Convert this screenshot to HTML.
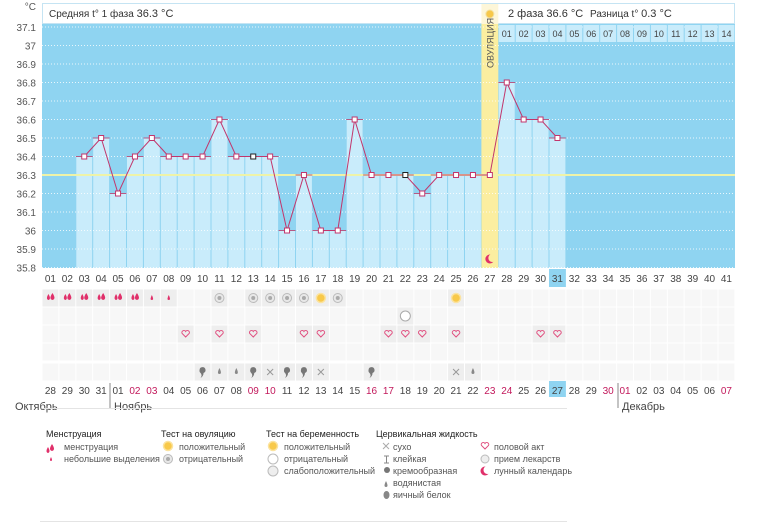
<!DOCTYPE html>
<html><head><meta charset="utf-8">
<style>
html,body{margin:0;padding:0;background:#fff;}
body{width:770px;height:523px;overflow:hidden;font-family:"Liberation Sans","DejaVu Sans",sans-serif;}
svg text{font-family:"Liberation Sans","DejaVu Sans",sans-serif;}
</style></head>
<body>
<svg id="s" width="770" height="523" xmlns="http://www.w3.org/2000/svg"></svg>
<script>
var s=document.getElementById('s');var h='';
var X0=42,W=16.9;
function cx(i){return X0+(i-0.5)*W;}
function y(v){return 27+(37.1-v)*185;}
// plot bg
h+='<rect x="42" y="24" width="693" height="244" fill="#8fd4f1"/>';
var data=[null,null,36.4,36.5,36.2,36.4,36.5,36.4,36.4,36.4,36.6,36.4,36.4,36.4,36.0,36.3,36.0,36.0,36.6,36.3,36.3,36.3,36.2,36.3,36.3,36.3,36.3,36.8,36.6,36.6,36.5];
// bars
for(var i=1;i<=31;i++){var v=data[i-1];if(v===null)continue;var x=X0+(i-1)*W;
 if(i==27){h+='<rect x="'+x+'" y="24" width="'+W+'" height="244" fill="#fbeea0"/>';continue;}
 h+='<rect x="'+(x+0.5)+'" y="'+y(v)+'" width="'+(W-1)+'" height="'+(268-y(v))+'" fill="#c9ecfb"/>';}
// dotted lines
for(var k=0;k<=13;k++){var v=37.1-k*0.1;var yy=y(v);
 h+='<line x1="42" x2="735" y1="'+yy+'" y2="'+yy+'" stroke="#fff" stroke-width="1" stroke-dasharray="1,2" opacity="0.8"/>';
 if(k<=13){var t=(Math.round(v*10)/10).toString();h+='<text x="36" y="'+(yy+4)+'" font-size="10" fill="#555" text-anchor="end">'+t+'</text>';}}
h+='<text x="36" y="10" font-size="10" fill="#555" text-anchor="end">°C</text>';
// coverline
h+='<line x1="42" x2="735" y1="175" y2="175" stroke="#eef3a8" stroke-width="2"/>';
// bar tops
for(var i=1;i<=31;i++){var v=data[i-1];if(v===null||i==27)continue;var x=X0+(i-1)*W;
 h+='<line x1="'+x+'" x2="'+(x+W)+'" y1="'+y(v)+'" y2="'+y(v)+'" stroke="#b55a85" stroke-width="1"/>';}
// line
var pts=[];for(var i=3;i<=31;i++)pts.push(cx(i)+','+y(data[i-1]));
h+='<polyline points="'+pts.join(' ')+'" fill="none" stroke="#c2366c" stroke-width="1"/>';
for(var i=3;i<=31;i++){var c=(i==13||i==22)?'#222':'#c2366c';h+='<rect x="'+(cx(i)-2.5)+'" y="'+(y(data[i-1])-2.5)+'" width="5" height="5" fill="#fff" stroke="'+c+'" stroke-width="1"/>';}
// header
h+='<rect x="42.5" y="3.5" width="692" height="20" fill="#fff" stroke="#c5e4f3"/>';
h+='<text x="49" y="17" font-size="10" fill="#333">Средняя t° 1 фаза <tspan font-size="11">36.3 °C</tspan></text>';
var ox=X0+26*W;
h+='<rect x="'+ox+'" y="4" width="'+W+'" height="20" fill="#fdf6d8"/><circle cx="'+(ox+W/2)+'" cy="14" r="4" fill="#f7c84a" stroke="#f3e0a0"/>';
h+='<text x="508" y="17" font-size="11" fill="#333">2 фаза 36.6 °C</text><text x="590" y="17" font-size="10" fill="#333">Разница t° <tspan font-size="11">0.3 °C</tspan></text>';
h+='<text transform="translate('+(ox+12)+',68) rotate(-90)" font-size="9" fill="#555">ОВУЛЯЦИЯ</text>';
// phase2 labels
for(var j=1;j<=14;j++){var x=X0+(26+j)*W;h+='<rect x="'+(x+0.5)+'" y="25" width="'+(W-1)+'" height="17" fill="#c9ecfb"/><text x="'+(x+W/2)+'" y="37" font-size="9" fill="#444" text-anchor="middle">'+(j<10?'0'+j:j)+'</text>';}
// moon
h+='<circle cx="'+(ox+W/2)+'" cy="259" r="4.5" fill="#e0306a"/><circle cx="'+(ox+W/2+2.5)+'" cy="258" r="4" fill="#fbeea0"/>';
// day labels row
for(var i=1;i<=41;i++){var x=cx(i);if(i==31)h+='<rect x="'+(X0+30*W)+'" y="269" width="'+W+'" height="18" fill="#8fd4f1"/>';
 h+='<text x="'+x+'" y="282" font-size="10" fill="#444" text-anchor="middle">'+(i<10?'0'+i:i)+'</text>';}
// grid rows
var rows=[298,316,334,352,372];
for(var r=0;r<5;r++)for(var i=1;i<=41;i++){var x=X0+(i-1)*W;h+='<rect x="'+(x+0.5)+'" y="'+(rows[r]-8.5)+'" width="'+(W-1)+'" height="17" fill="#f7f7f7"/>';}
function cell(i,r){h+='<rect x="'+(X0+(i-1)*W+0.5)+'" y="'+(rows[r]-8.5)+'" width="'+(W-1)+'" height="17" fill="#eeeeee"/>';}
function drop(i,r,big){var x=cx(i),yy=rows[r];if(big){h+='<path d="M'+(x-2)+' '+(yy-4)+' q-3 5 0 6 q3 -1 0 -6z M'+(x+2)+' '+(yy-5)+' q-4 6 0 7 q4 -1 0 -7z" fill="#e0306a"/>';}else h+='<path d="M'+x+' '+(yy-3)+' q-2.5 5 0 5 q2.5 0 0 -5z" fill="#e0306a"/>';}
for(var i=1;i<=6;i++){cell(i,0);drop(i,0,true);}cell(7,0);drop(7,0,false);cell(8,0);drop(8,0,false);
[11,13,14,15,16,18].forEach(function(i){cell(i,0);h+='<circle cx="'+cx(i)+'" cy="298" r="4.5" fill="#e8e8e8" stroke="#bbb"/><circle cx="'+cx(i)+'" cy="298" r="2" fill="#aaa"/>';});
[17,25].forEach(function(i){cell(i,0);h+='<circle cx="'+cx(i)+'" cy="298" r="4.5" fill="#f8c94a" stroke="#fbe3a0" stroke-width="1.5"/>';});
cell(22,1);h+='<circle cx="'+cx(22)+'" cy="316" r="5" fill="#fff" stroke="#aaa"/>';
[9,11,13,16,17,21,22,23,25,30,31].forEach(function(i){cell(i,2);var x=cx(i),yy=334;h+='<path d="M'+x+' '+(yy+3)+' L'+(x-3.5)+' '+(yy-0.5)+' A1.8 1.8 0 0 1 '+x+' '+(yy-2.5)+' A1.8 1.8 0 0 1 '+(x+3.5)+' '+(yy-0.5)+' Z" fill="none" stroke="#e05080" stroke-width="1"/>';});
var cerv={10:'c',11:'w',12:'w',13:'c',14:'x',15:'c',16:'c',17:'x',20:'c',25:'x',26:'w'};
for(var k in cerv){var i=+k;cell(i,4);var x=cx(i),yy=372,t=cerv[k];
 if(t=='c')h+='<path d="M'+(x-3)+' '+(yy-2)+' a3 3 0 1 1 4 3 q0 3 -3 5 q2 -3 0 -5 a3 3 0 0 1 -1 -3z" fill="#777"/>';
 else if(t=='w')h+='<path d="M'+x+' '+(yy-4)+' q-3 6 0 6 q3 0 0 -6z" fill="#888"/>';
 else h+='<path d="M'+(x-3)+' '+(yy-3)+' l6 6 M'+(x+3)+' '+(yy-3)+' l-6 6" stroke="#999" stroke-width="1"/>';}
// date row
var dates=['28','29','30','31'];for(var d=1;d<=30;d++)dates.push(d<10?'0'+d:''+d);for(var d=1;d<=7;d++)dates.push('0'+d);
var red={6:1,7:1,13:1,14:1,20:1,21:1,27:1,28:1,34:1,35:1,41:1};
for(var i=1;i<=41;i++){if(i==31)h+='<rect x="'+(X0+30*W)+'" y="381" width="'+W+'" height="16" fill="#8fd4f1"/>';
 h+='<text x="'+cx(i)+'" y="394" font-size="10" fill="'+(red[i]?'#c2185b':'#444')+'" text-anchor="middle">'+dates[i-1]+'</text>';}
h+='<line x1="110" x2="110" y1="383" y2="408" stroke="#888"/><line x1="618" x2="618" y1="383" y2="408" stroke="#888"/>';
h+='<text x="15" y="410" font-size="11" fill="#444">Октябрь</text><text x="114" y="410" font-size="11" fill="#444">Ноябрь</text><text x="622" y="410" font-size="11" fill="#444">Декабрь</text>';
h+='<line x1="42" x2="567" y1="408.5" y2="408.5" stroke="#e4e4e4"/><line x1="40" x2="567" y1="521.5" y2="521.5" stroke="#e4e4e4"/>';
// legend
function T(x,yy,t,b){h+='<text x="'+x+'" y="'+yy+'" font-size="9" fill="'+(b?'#222':'#555')+'">'+t+'</text>';}
T(46,437,'Менструация',1);T(64,450,'менструация');T(64,462,'небольшие выделения');
h+='<path d="M48 447 q-3 5 0 6 q3 -1 0 -6z M52 444 q-4 6 0 7 q4 -1 0 -7z" fill="#e0306a"/><path d="M51 457 q-2 4 0 4 q2 0 0 -4z" fill="#e0306a"/>';
T(161,437,'Тест на овуляцию',1);T(179,450,'положительный');T(179,462,'отрицательный');
h+='<circle cx="168" cy="446" r="4.5" fill="#f8c94a" stroke="#fbe3a0" stroke-width="1.5"/><circle cx="168" cy="459" r="4.5" fill="#e8e8e8" stroke="#bbb"/><circle cx="168" cy="459" r="2" fill="#aaa"/>';
T(266,437,'Тест на беременность',1);T(284,450,'положительный');T(284,462,'отрицательный');T(284,474,'слабоположительный');
h+='<circle cx="273" cy="446" r="4.5" fill="#f8c94a" stroke="#fbe3a0" stroke-width="1.5"/><circle cx="273" cy="459" r="5" fill="#fff" stroke="#bbb"/><circle cx="273" cy="471" r="5" fill="#eee" stroke="#bbb"/>';
T(376,437,'Цервикальная жидкость',1);T(393,450,'сухо');T(393,462,'клейкая');T(393,474,'кремообразная');T(393,486,'водянистая');T(393,498,'яичный белок');
h+='<path d="M383 443 l6 6 M389 443 l-6 6" stroke="#aaa"/><path d="M384 456 h5 M386.5 456 v7 M384 463 h5" stroke="#888"/><circle cx="387" cy="470" r="3" fill="#777"/><path d="M386 481 q-3 6 0 6 q3 0 0 -6z" fill="#888"/><ellipse cx="386.5" cy="495" rx="3" ry="4" fill="#888"/>';
T(494,450,'половой акт');T(494,462,'прием лекарств');T(494,474,'лунный календарь');
h+='<path d="M485 449 L481.5 445.5 A1.8 1.8 0 0 1 485 443.5 A1.8 1.8 0 0 1 488.5 445.5 Z" fill="none" stroke="#e05080"/><circle cx="485" cy="459" r="4" fill="#eee" stroke="#bbb"/><circle cx="485" cy="471" r="4.5" fill="#e0306a"/><circle cx="487.5" cy="470" r="4" fill="#fff"/>';
s.innerHTML=h;
</script>
</body></html>
